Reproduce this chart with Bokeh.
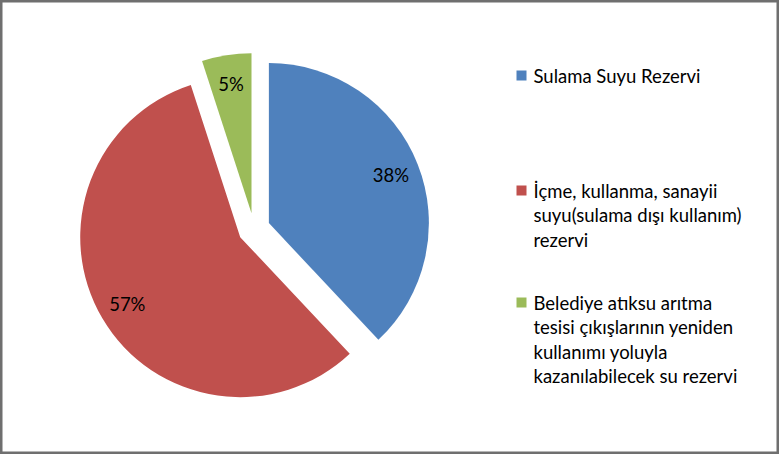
import math
from bokeh.plotting import figure
from bokeh.models import Range1d, ColumnDataSource
from bokeh.core.properties import value
from bokeh.embed import file_html
from bokeh.resources import INLINE

# ---- data ----
categories = [
    "Sulama Suyu Rezervi",
    "İçme, kullanma, sanayii suyu(sulama dışı kullanım) rezervi",
    "Belediye atıksu arıtma tesisi çıkışlarının yeniden kullanımı yoluyla kazanılabilecek su rezervi",
]
legend_lines = [
    ["Sulama Suyu Rezervi"],
    ["İçme, kullanma, sanayii", "suyu(sulama dışı kullanım)", "rezervi"],
    ["Belediye atıksu arıtma", "tesisi çıkışlarının yeniden", "kullanımı yoluyla", "kazanılabilecek su rezervi"],
]
values = [38, 57, 5]
colors = ["#4F81BD", "#C0504D", "#9BBB59"]

W, H = 779, 454
FONT = "Lato"

p = figure(width=W, height=H, output_backend="svg", toolbar_location=None,
           x_range=Range1d(0, W), y_range=Range1d(0, H), min_border=0)
p.axis.visible = False
p.grid.visible = False
p.background_fill_color = "white"
p.border_fill_color = "white"
p.outline_line_color = "#6F6F6F"
p.outline_line_width = 4

# pie geometry (layout)
cx, cy, r, explode = 253.5, H - 228.5, 160, 16
total = sum(values)
xs, ys, starts, ends, lx, ly, labels = [], [], [], [], [], [], []
cum = 0.0
for v in values:
    f0 = cum / total
    f1 = (cum + v) / total
    cum += v
    a0 = math.pi / 2 - f0 * 2 * math.pi
    a1 = math.pi / 2 - f1 * 2 * math.pi
    am = (a0 + a1) / 2
    x = cx + explode * math.cos(am)
    y = cy + explode * math.sin(am)
    xs.append(x); ys.append(y); starts.append(a0); ends.append(a1)
    lx.append(x + 0.82 * r * math.cos(am))
    ly.append(y + 0.82 * r * math.sin(am))
    labels.append(f"{round(100 * v / total)}%")

src = ColumnDataSource(dict(x=xs, y=ys, start=starts, end=ends, color=colors,
                            lx=lx, ly=ly, label=labels))
p.wedge(x="x", y="y", radius=r, start_angle="start", end_angle="end",
        direction="clock", fill_color="color", line_color=None, source=src)
p.text(x="lx", y="ly", text="label", source=src, text_align="center",
       text_baseline="middle", text_font=value(FONT), text_font_size="18.5px",
       text_color="#000000")

# legend (drawn manually for multi-line wrapping)
leg_x = 516
group_tops = [75, 190, 302]
line_h = 24.5
sq_x, sq_y, tx, ty, tt = [], [], [], [], []
for i, lines in enumerate(legend_lines):
    top = group_tops[i]
    sq_x.append(leg_x + 5)
    sq_y.append(H - top)
    for j, ln in enumerate(lines):
        tx.append(leg_x + 17)
        ty.append(H - (top + j * line_h))
        tt.append(ln)
p.rect(x=sq_x, y=sq_y, width=10, height=10, fill_color=colors, line_color=None)
p.text(x=tx, y=ty, text=tt, text_align="left", text_baseline="middle",
       text_font=value(FONT), text_font_size="18.5px", text_color="#000000")

open("out.html", "w").write(file_html(p, INLINE))
